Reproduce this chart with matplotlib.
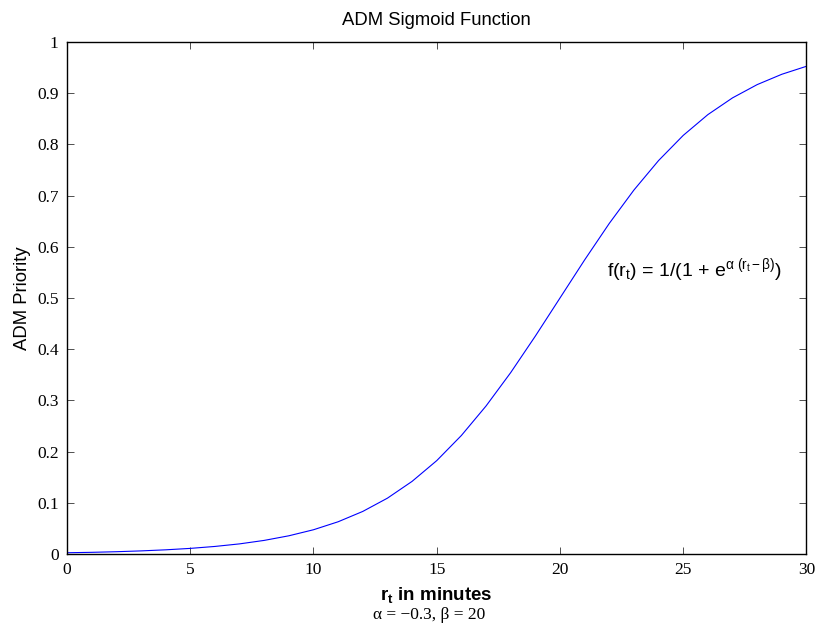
import matplotlib
matplotlib.use("Agg")
import matplotlib.pyplot as plt

# sigmoid priority sampled once per minute, alpha = -0.3, beta = 20
minutes = list(range(0, 31))
priority = [0.0025, 0.0033, 0.0045, 0.0061, 0.0082, 0.0110, 0.0148, 0.0198,
            0.0266, 0.0356, 0.0474, 0.0630, 0.0832, 0.1091, 0.1419, 0.1824,
            0.2315, 0.2891, 0.3543, 0.4256, 0.5000, 0.5744, 0.6457, 0.7109,
            0.7685, 0.8176, 0.8582, 0.8909, 0.9168, 0.9370, 0.9526]

x_ticks = [0, 5, 10, 15, 20, 25, 30]
x_tick_labels = ["0", "5", "10", "15", "20", "25", "30"]
y_ticks = [0, 0.1, 0.2, 0.3, 0.4, 0.5, 0.6, 0.7, 0.8, 0.9, 1]
y_tick_labels = ["0", "0.1", "0.2", "0.3", "0.4", "0.5", "0.6", "0.7", "0.8", "0.9", "1"]

plt.rcParams["font.family"] = ["Liberation Sans", "DejaVu Sans"]
plt.rcParams["mathtext.fontset"] = "custom"
plt.rcParams["mathtext.rm"] = "Liberation Sans"
plt.rcParams["mathtext.it"] = "Liberation Sans"
plt.rcParams["mathtext.bf"] = "Liberation Sans:bold"

fig = plt.figure(figsize=(8.19, 6.28), dpi=100)
ax = fig.add_axes([0.0818, 0.1178, 0.9029, 0.8153])

ax.plot(minutes, priority, color="#0000ff", linewidth=0.8)

ax.set_xlim(0, 30)
ax.set_ylim(0, 1)
ax.set_xticks(x_ticks)
ax.set_xticklabels(x_tick_labels, fontfamily="Liberation Serif", fontsize=12.5)
ax.set_yticks(y_ticks)
ax.set_yticklabels(y_tick_labels, fontfamily="Liberation Serif", fontsize=12.5)
ax.tick_params(direction="in", length=5, width=0.6, top=True, right=True, pad=6,
               color="#333333")
for spine in ax.spines.values():
    spine.set_linewidth(1.0)

ax.set_title("ADM Sigmoid Function", fontsize=13.3, pad=12)
ax.set_ylabel("ADM Priority", fontsize=13.3, labelpad=4)
ax.set_xlabel(r"$\mathbf{r_t}$ in minutes", fontsize=13.5, fontweight="bold",
              labelpad=5)
ax.text(0.49, -0.103, "α = −0.3, β = 20", transform=ax.transAxes,
        ha="center", va="top", fontsize=12.5, fontfamily="Liberation Serif")

ax.text(21.9, 0.555, r"f(r$_\mathregular{t}$) = 1/(1 + e$^{\alpha\ (\mathregular{r_t - \beta})}$)",
        fontsize=14, ha="left", va="center")

fig.savefig("out.png", dpi=100)
